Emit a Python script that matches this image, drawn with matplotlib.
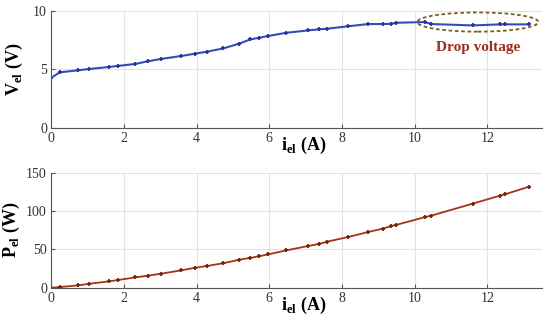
import matplotlib
matplotlib.use("Agg")
import matplotlib.pyplot as plt
from matplotlib.patches import Ellipse

# current (A)
i_el = [0.0, 0.23, 0.73, 1.05, 1.59, 1.83, 2.31, 2.66, 3.02, 3.57, 3.95, 4.28,
        4.74, 5.17, 5.48, 5.72, 5.97, 6.47, 7.06, 7.36, 7.59, 8.16, 8.72, 9.12,
        9.36, 9.50, 10.28, 10.46, 11.60, 12.35, 12.50, 13.15]
# voltage (V)
v_el = [4.26, 4.74, 4.91, 5.03, 5.20, 5.29, 5.46, 5.69, 5.89, 6.14, 6.34, 6.51,
        6.80, 7.20, 7.57, 7.71, 7.86, 8.14, 8.34, 8.43, 8.49, 8.69, 8.89, 8.89,
        8.91, 9.00, 9.06, 8.89, 8.77, 8.86, 8.86, 8.86]
# power (W)
p_el = [0.0, 0.9, 3.0, 5.2, 8.3, 10.0, 13.5, 15.7, 18.3, 22.6, 26.0, 28.3,
        32.0, 36.5, 39.0, 41.0, 43.5, 48.7, 54.3, 57.0, 60.0, 66.0, 72.6, 77.0,
        80.4, 82.0, 92.0, 94.0, 109.6, 120.0, 122.0, 131.7]

x_ticks = [0, 2, 4, 6, 8, 10, 12]

plt.rcParams['font.family'] = ['Liberation Serif', 'DejaVu Serif']
plt.rcParams['mathtext.fontset'] = 'custom'
plt.rcParams['mathtext.rm'] = 'Liberation Serif'
plt.rcParams['mathtext.bf'] = 'Liberation Serif:bold'

fig = plt.figure(figsize=(5.5, 3.27), dpi=100)
ax1 = fig.add_axes([0.093, 0.61, 0.892, 0.356])
ax2 = fig.add_axes([0.093, 0.12, 0.892, 0.352])


def style(ax, ylim, yticks):
    ax.set_xlim(0, 13.5)
    ax.set_ylim(*ylim)
    ax.set_xticks(x_ticks)
    ax.set_yticks(yticks)
    ax.grid(True, color='#e3e3e3', linewidth=0.8)
    ax.set_axisbelow(True)
    for s in ['top', 'right']:
        ax.spines[s].set_visible(False)
    for s in ['left', 'bottom']:
        ax.spines[s].set_color('#555555')
        ax.spines[s].set_linewidth(0.8)
    ax.tick_params(direction='in', length=3, color='#555555', labelsize=10,
                   labelcolor='#333333', pad=3)


style(ax1, (0, 10), [0, 5, 10])
style(ax2, (0, 150), [0, 50, 100, 150])

ax1.plot(i_el, v_el, color='#2f4fb5', linewidth=1.5, marker='+',
         markersize=3, markeredgewidth=1.3, markeredgecolor='#3030a0')
ax2.plot(i_el, p_el, color='#a83218', linewidth=1.3, marker='+',
         markersize=3, markeredgewidth=1.3, markeredgecolor='#6a2a10')

# dashed ellipse marking the drop region
ax1.add_patch(Ellipse((11.74, 9.06), 3.33, 1.65, fill=False, linestyle=(0, (2, 1.5)),
                      edgecolor='#7a5a20', linewidth=1.3))
ax1.text(11.74, 6.9, 'Drop voltage', color='#9b2d1f', fontsize=11,
         fontweight='bold', ha='center', va='center')

ax1.set_ylabel(r'$\mathbf{V}_{\mathbf{el}}$ (V)', fontsize=13, fontweight='bold')
ax2.set_ylabel(r'$\mathbf{P}_{\mathbf{el}}$ (W)', fontsize=13, fontweight='bold')
for ax in (ax1, ax2):
    ax.set_xlabel(r'$\mathbf{i}_{\mathbf{el}}$ (A)', fontsize=13, fontweight='bold')
    ax.xaxis.label.set_va('top')
    ax.xaxis.set_label_coords(0.515, -0.06)
ax1.yaxis.set_label_coords(-0.053, 0.5)
ax2.yaxis.set_label_coords(-0.059, 0.5)

fig.savefig('out.png', dpi=100)
